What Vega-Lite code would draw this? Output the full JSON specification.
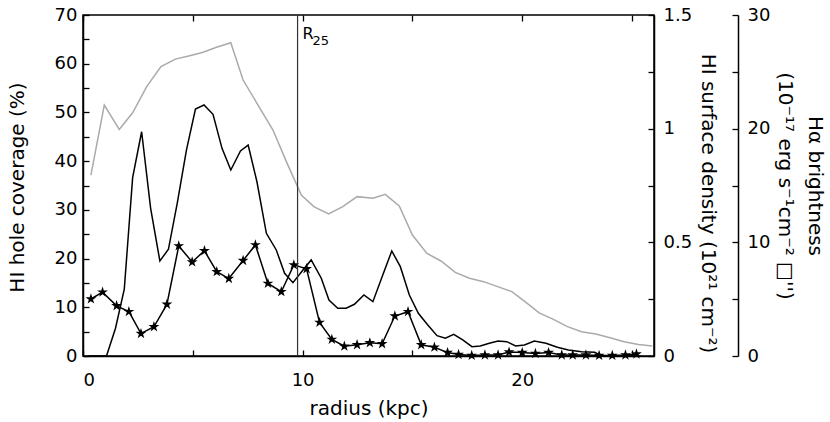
{
  "$schema": "https://vega.github.io/schema/vega-lite/v6.json",
  "width": 571,
  "height": 341,
  "autosize": {"type": "none"},
  "padding": {"left": 83, "top": 15, "right": 176, "bottom": 66},
  "background": "white",
  "config": {
    "view": {"stroke": "black", "strokeWidth": 1.5},
    "axis": {
      "grid": false,
      "domainColor": "black",
      "domainWidth": 1.5,
      "tickColor": "black",
      "tickWidth": 1.3,
      "tickSize": -6,
      "labelFont": "DejaVu Sans",
      "labelFontSize": 18,
      "labelColor": "black",
      "labelPadding": 12,
      "titleFont": "DejaVu Sans",
      "titleFontSize": 20,
      "titleFontWeight": "normal",
      "titleColor": "black"
    }
  },
  "datasets": {
    "hi": [
      {"radius": 0.36, "density": 0.796}, {"radius": 0.97, "density": 1.104}, {"radius": 1.65, "density": 0.997},
      {"radius": 2.26, "density": 1.070}, {"radius": 2.9, "density": 1.185}, {"radius": 3.55, "density": 1.273},
      {"radius": 4.21, "density": 1.306}, {"radius": 4.86, "density": 1.321}, {"radius": 5.47, "density": 1.336},
      {"radius": 6.08, "density": 1.358}, {"radius": 6.73, "density": 1.378}, {"radius": 7.29, "density": 1.214},
      {"radius": 7.97, "density": 1.104}, {"radius": 8.65, "density": 0.994}, {"radius": 9.26, "density": 0.855},
      {"radius": 9.94, "density": 0.708}, {"radius": 10.51, "density": 0.657}, {"radius": 11.18, "density": 0.625},
      {"radius": 11.83, "density": 0.657}, {"radius": 12.48, "density": 0.701}, {"radius": 13.2, "density": 0.694},
      {"radius": 13.76, "density": 0.711}, {"radius": 14.4, "density": 0.660}, {"radius": 15.0, "density": 0.532},
      {"radius": 15.65, "density": 0.452}, {"radius": 16.3, "density": 0.418}, {"radius": 16.95, "density": 0.368},
      {"radius": 17.6, "density": 0.342}, {"radius": 18.24, "density": 0.327}, {"radius": 18.88, "density": 0.305},
      {"radius": 19.53, "density": 0.283}, {"radius": 20.17, "density": 0.236}, {"radius": 20.77, "density": 0.190},
      {"radius": 21.42, "density": 0.161}, {"radius": 22.06, "density": 0.129}, {"radius": 22.7, "density": 0.107},
      {"radius": 23.35, "density": 0.097}, {"radius": 24.0, "density": 0.080}, {"radius": 24.64, "density": 0.063},
      {"radius": 25.29, "density": 0.051}, {"radius": 25.92, "density": 0.044}
    ],
    "ha": [
      {"radius": 0.25, "ha": 0}, {"radius": 0.66, "ha": 0}, {"radius": 1.07, "ha": 0}, {"radius": 1.48, "ha": 2.44},
      {"radius": 1.88, "ha": 5.89}, {"radius": 2.26, "ha": 15.69}, {"radius": 2.67, "ha": 19.73}, {"radius": 3.08, "ha": 12.99},
      {"radius": 3.5, "ha": 8.36}, {"radius": 3.89, "ha": 9.39}, {"radius": 4.29, "ha": 13.43}, {"radius": 4.71, "ha": 18.12},
      {"radius": 5.12, "ha": 21.73}, {"radius": 5.51, "ha": 22.08}, {"radius": 5.92, "ha": 21.26}, {"radius": 6.33, "ha": 18.27},
      {"radius": 6.73, "ha": 16.36}, {"radius": 7.17, "ha": 18.04}, {"radius": 7.52, "ha": 18.56}, {"radius": 7.92, "ha": 15.33},
      {"radius": 8.35, "ha": 10.79}, {"radius": 8.8, "ha": 9.33}, {"radius": 9.18, "ha": 7.27}, {"radius": 9.56, "ha": 6.45},
      {"radius": 9.98, "ha": 7.48}, {"radius": 10.39, "ha": 8.45}, {"radius": 10.85, "ha": 6.84}, {"radius": 11.2, "ha": 4.93},
      {"radius": 11.6, "ha": 4.2}, {"radius": 11.98, "ha": 4.2}, {"radius": 12.36, "ha": 4.55}, {"radius": 12.79, "ha": 5.37},
      {"radius": 13.2, "ha": 4.78}, {"radius": 13.65, "ha": 7.13}, {"radius": 14.06, "ha": 9.24}, {"radius": 14.45, "ha": 7.86},
      {"radius": 14.86, "ha": 5.37}, {"radius": 15.27, "ha": 3.76}, {"radius": 15.7, "ha": 2.73}, {"radius": 16.12, "ha": 1.79},
      {"radius": 16.5, "ha": 1.56}, {"radius": 16.88, "ha": 1.91}, {"radius": 17.29, "ha": 1.41}, {"radius": 17.71, "ha": 0.82},
      {"radius": 18.09, "ha": 0.88}, {"radius": 18.5, "ha": 1.12}, {"radius": 18.9, "ha": 1.32}, {"radius": 19.3, "ha": 1.26},
      {"radius": 19.7, "ha": 0.88}, {"radius": 20.1, "ha": 0.97}, {"radius": 20.55, "ha": 1.32}, {"radius": 21.08, "ha": 1.12},
      {"radius": 21.6, "ha": 0.77}, {"radius": 22.1, "ha": 0.53}, {"radius": 22.7, "ha": 0.38}, {"radius": 23.3, "ha": 0.33},
      {"radius": 23.6, "ha": 0.03}, {"radius": 24.0, "ha": 0}, {"radius": 24.5, "ha": 0}, {"radius": 25.0, "ha": 0}, {"radius": 25.4, "ha": 0}
    ],
    "holes": [
      {"radius": 0.36, "coverage": 11.7}, {"radius": 0.89, "coverage": 13.1}, {"radius": 1.53, "coverage": 10.3},
      {"radius": 2.09, "coverage": 9.1}, {"radius": 2.64, "coverage": 4.6}, {"radius": 3.23, "coverage": 6.0},
      {"radius": 3.82, "coverage": 10.6}, {"radius": 4.36, "coverage": 22.6}, {"radius": 4.97, "coverage": 19.3},
      {"radius": 5.53, "coverage": 21.6}, {"radius": 6.09, "coverage": 17.3}, {"radius": 6.64, "coverage": 15.9},
      {"radius": 7.29, "coverage": 19.6}, {"radius": 7.85, "coverage": 22.8}, {"radius": 8.42, "coverage": 14.9},
      {"radius": 9.03, "coverage": 13.2}, {"radius": 9.6, "coverage": 18.7}, {"radius": 10.18, "coverage": 17.9},
      {"radius": 10.77, "coverage": 6.9}, {"radius": 11.33, "coverage": 3.4}, {"radius": 11.9, "coverage": 2.0},
      {"radius": 12.48, "coverage": 2.3}, {"radius": 13.06, "coverage": 2.7}, {"radius": 13.62, "coverage": 2.5},
      {"radius": 14.2, "coverage": 8.2}, {"radius": 14.8, "coverage": 9.1}, {"radius": 15.4, "coverage": 2.3},
      {"radius": 16.0, "coverage": 1.8}, {"radius": 16.6, "coverage": 0.7}, {"radius": 17.1, "coverage": 0.3},
      {"radius": 17.7, "coverage": 0.1}, {"radius": 18.3, "coverage": 0.2}, {"radius": 18.9, "coverage": 0.2},
      {"radius": 19.4, "coverage": 0.8}, {"radius": 20.0, "coverage": 0.7}, {"radius": 20.6, "coverage": 0.5},
      {"radius": 21.2, "coverage": 0.7}, {"radius": 21.8, "coverage": 0.2}, {"radius": 22.3, "coverage": 0.2},
      {"radius": 22.9, "coverage": 0.2}, {"radius": 23.5, "coverage": 0.1}, {"radius": 24.1, "coverage": 0.1},
      {"radius": 24.7, "coverage": 0.2}, {"radius": 25.2, "coverage": 0.4}
    ],
    "marker": [{"r25": 9.77, "main": "R", "sub": "25"}]
  },
  "resolve": {"scale": {"y": "independent"}, "axis": {"x": "independent", "y": "independent"}},
  "layer": [
    {
      "data": {"name": "hi"},
      "mark": {"type": "line", "color": "#aaaaaa", "strokeWidth": 1.5},
      "encoding": {
        "x": {"field": "radius", "type": "quantitative", "scale": {"domain": [0, 26], "nice": false, "zero": false},
              "axis": {"orient": "top", "values": [0, 5, 10, 15, 20, 25], "labels": false, "title": null, "domain": false}},
        "y": {"field": "density", "type": "quantitative", "scale": {"domain": [0, 1.5], "nice": false},
              "axis": {"orient": "right", "values": [0, 0.25, 0.5, 0.75, 1, 1.25, 1.5], "format": "~g",
                       "labelExpr": "datum.value % 0.5 === 0 ? datum.label : ''", "labelPadding": 15,
                       "title": "HI surface density (10²¹ cm⁻²)", "titlePadding": 6, "titleY": 188}}
      }
    },
    {
      "data": {"name": "ha"},
      "mark": {"type": "line", "color": "black", "strokeWidth": 1.5},
      "encoding": {
        "x": {"field": "radius", "type": "quantitative", "axis": null},
        "y": {"field": "ha", "type": "quantitative", "scale": {"domain": [0, 30], "nice": false},
              "axis": {"orient": "right", "offset": 84, "values": [0, 5, 10, 15, 20, 25, 30],
                       "labelExpr": "datum.value % 10 === 0 ? datum.label : ''", "labelPadding": 15,
                       "title": ["Hα brightness", "(10⁻¹⁷ erg s⁻¹cm⁻² □'')"], "titleLineHeight": 30, "titlePadding": 5}}
      }
    },
    {
      "data": {"name": "holes"},
      "mark": {"type": "line", "color": "black", "strokeWidth": 1.5,
               "point": {"shape": "M0,-1L0.2245,-0.309L0.9511,-0.309L0.3633,0.118L0.5878,0.809L0,0.382L-0.5878,0.809L-0.3633,0.118L-0.9511,-0.309L-0.2245,-0.309Z",
                         "size": 130, "filled": true, "color": "black"}},
      "encoding": {
        "x": {"field": "radius", "type": "quantitative",
              "axis": {"orient": "bottom", "values": [0, 5, 10, 15, 20, 25], "labelExpr": "datum.value % 10 === 0 ? datum.label : ''",
                       "labelPadding": 21, "title": "radius (kpc)", "titlePadding": 9}},
        "y": {"field": "coverage", "type": "quantitative", "scale": {"domain": [0, 70], "nice": false},
              "axis": {"orient": "left", "values": [0, 5, 10, 15, 20, 25, 30, 35, 40, 45, 50, 55, 60, 65, 70],
                       "labelExpr": "datum.value % 10 === 0 ? datum.label : ''",
                       "title": "HI hole coverage (%)", "titlePadding": 27, "titleY": 172}}
      }
    },
    {
      "data": {"name": "marker"},
      "mark": {"type": "rule", "color": "#333333", "strokeWidth": 1.2},
      "encoding": {"x": {"field": "r25", "type": "quantitative", "axis": null}}
    },
    {
      "data": {"name": "marker"},
      "mark": {"type": "text", "align": "left", "baseline": "alphabetic", "font": "DejaVu Sans", "fontSize": 16, "dx": 5, "color": "black"},
      "encoding": {
        "x": {"field": "r25", "type": "quantitative", "axis": null},
        "y": {"datum": 65, "type": "quantitative", "scale": {"domain": [0, 70], "nice": false}, "axis": null},
        "text": {"field": "main"}
      }
    },
    {
      "data": {"name": "marker"},
      "mark": {"type": "text", "align": "left", "baseline": "alphabetic", "font": "DejaVu Sans", "fontSize": 13, "dx": 15, "dy": 6, "color": "black"},
      "encoding": {
        "x": {"field": "r25", "type": "quantitative", "axis": null},
        "y": {"datum": 65, "type": "quantitative", "scale": {"domain": [0, 70], "nice": false}, "axis": null},
        "text": {"field": "sub"}
      }
    }
  ]
}
